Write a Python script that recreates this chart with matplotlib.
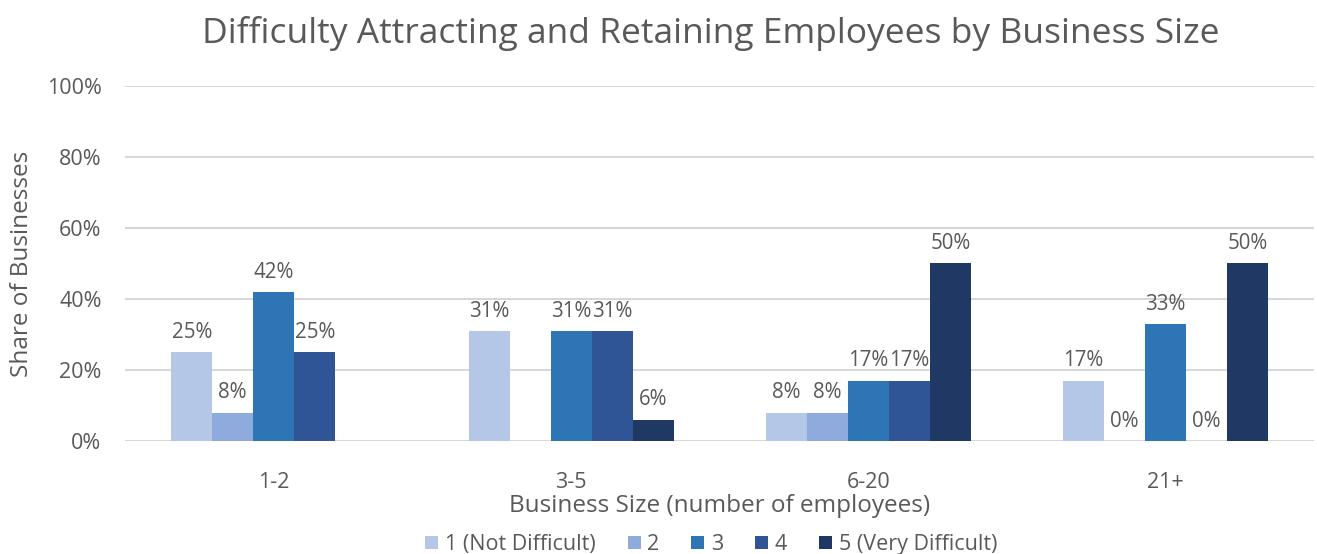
import matplotlib
matplotlib.use("Agg")
import matplotlib.pyplot as plt
import numpy as np

plt.rcParams['font.family'] = ['Open Sans', 'DejaVu Sans']

categories = ["1-2", "3-5", "6-20", "21+"]
series_names = ["1 (Not Difficult)", "2", "3", "4", "5 (Very Difficult)"]
# None = no response category shown (no bar, no label)
s1 = [25, 31, 8, 17]
s2 = [8, None, 8, 0]
s3 = [42, 31, 17, 33]
s4 = [25, 31, 17, 0]
s5 = [None, 6, 50, 50]
series = [s1, s2, s3, s4, s5]
colors = ["#b4c7e7", "#8faadc", "#2e75b6", "#2f5597", "#203864"]
yticks = [0, 20, 40, 60, 80, 100]

txt = "#595959"
fig = plt.figure(figsize=(13.17, 5.54), dpi=100)
ax = fig.add_axes([0.095, 0.204, 0.903, 0.641])

x = np.arange(len(categories))
w = 0.138
for i, (vals, c, name) in enumerate(zip(series, colors, series_names)):
    pos = x + (i - 2) * w
    h = [v if v is not None else 0 for v in vals]
    ax.bar(pos, h, width=w, color=c, label=name, zorder=3)
    for p, v in zip(pos, vals):
        if v is None:
            continue
        ax.text(p, v + 2.6, f"{v}%", ha="center", va="bottom", fontsize=14.8, color=txt, zorder=4)

ax.set_xlim(-0.5, 3.5)
ax.set_ylim(0, 100)
ax.set_yticks(yticks)
ax.set_yticklabels([f"{t}%" for t in yticks], fontsize=15.5, color=txt)
ax.set_xticks(x)
ax.set_xticklabels(categories, fontsize=15.5, color=txt)
ax.tick_params(axis="x", length=0, pad=22)
ax.tick_params(axis="y", length=0, pad=17)
ax.grid(axis="y", color="#d0d0d0", linewidth=1.2, zorder=0)
for s in ax.spines.values():
    s.set_visible(False)

ax.set_xlabel("Business Size (number of employees)", fontsize=17.5, color=txt, labelpad=1)
ax.set_ylabel("Share of Businesses", fontsize=17.5, color=txt, labelpad=9)
fig.text(0.54, 0.94, "Difficulty Attracting and Retaining Employees by Business Size",
         ha="center", va="center", fontsize=25.5, color=txt)

leg = fig.legend(loc="center", bbox_to_anchor=(0.54, 0.017), ncol=5, frameon=False,
                 fontsize=15.5, handlelength=0.6, handleheight=0.6, handletextpad=0.3,
                 columnspacing=1.5)
for t in leg.get_texts():
    t.set_color(txt)

fig.savefig("out.png", dpi=100)
